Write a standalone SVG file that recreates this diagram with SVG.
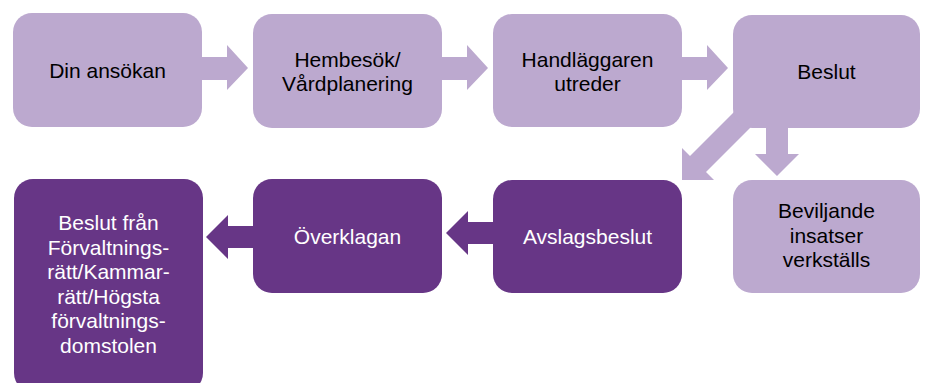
<svg xmlns="http://www.w3.org/2000/svg" width="926" height="383" viewBox="0 0 926 383">
<style>
.l{fill:#BCA9CF}
.d{fill:#673686}
.t{font-family:"Liberation Sans",Arial,sans-serif;font-size:21px;text-anchor:middle}
.tb{fill:#000000}
.tw{fill:#FFFFFF}
</style>
<rect width="926" height="383" fill="#FFFFFF"/>
<g id="connectors">
<polygon class="l" points="200,57 227,57 227,45 248,68 227,90 227,80 200,80"/>
<polygon class="l" points="440,57 467,57 467,45 488,68 467,90 467,80 440,80"/>
<polygon class="l" points="680,57 707,57 707,45 728,68 707,90 707,80 680,80"/>
<polygon class="l" points="766,125 788,125 788,154 799,154 777,176 755,154 766,154"/>
<polygon class="l" points="745,101 761,117 706,172 714,180 682,180 682,148 690,156"/>
<polygon class="d" points="495,222 468,222 468,211 446,233 468,255 468,244 495,244"/>
<polygon class="d" points="255,226 228,226 228,215 206,237 228,259 228,248 255,248"/>
</g>
<g id="n1"><rect class="l" x="13" y="13" width="189" height="114" rx="19"/><text class="t tb" x="107.5" y="78">Din ansökan</text></g>
<g id="n2"><rect class="l" x="253" y="14" width="189" height="114" rx="19"/><text class="t tb" x="347.5" y="67">Hembesök/</text><text class="t tb" x="347.5" y="91">Vårdplanering</text></g>
<g id="n3"><rect class="l" x="493" y="14" width="189" height="113" rx="19"/><text class="t tb" x="587.5" y="67">Handläggaren</text><text class="t tb" x="587.5" y="91">utreder</text></g>
<g id="n4"><rect class="l" x="733" y="15" width="187" height="113" rx="19"/><text class="t tb" x="826.5" y="79">Beslut</text></g>
<g id="n5"><rect class="l" x="733" y="180" width="187" height="113" rx="19"/><text class="t tb" x="826.5" y="218">Beviljande</text><text class="t tb" x="826.5" y="242.5">insatser</text><text class="t tb" x="826.5" y="267">verkställs</text></g>
<g id="n6"><rect class="d" x="493" y="180" width="189" height="113" rx="19"/><text class="t tw" x="587.5" y="243.5">Avslagsbeslut</text></g>
<g id="n7"><rect class="d" x="253" y="179" width="189" height="114" rx="19"/><text class="t tw" x="347.5" y="243.5">Överklagan</text></g>
<g id="n8"><rect class="d" x="14" y="179" width="189" height="213" rx="19"/><text class="t tw" x="108.5" y="230">Beslut från</text><text class="t tw" x="108.5" y="254.6">Förvaltnings-</text><text class="t tw" x="108.5" y="279.2">rätt/Kammar-</text><text class="t tw" x="108.5" y="303.8">rätt/Högsta</text><text class="t tw" x="108.5" y="328.4">förvaltnings-</text><text class="t tw" x="108.5" y="353">domstolen</text></g>
</svg>
